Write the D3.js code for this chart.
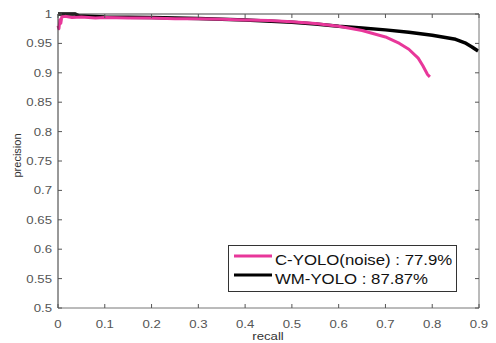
<!DOCTYPE html>
<html><head><meta charset="utf-8">
<script src="https://cdn.jsdelivr.net/npm/d3@7"></script>
<style>body{margin:0;background:#fff}svg{display:block}text{font-family:"Liberation Sans",Arial,sans-serif}</style>
</head><body><svg id="c" width="496" height="343"></svg>
<script>
const xTicks = [0,0.1,0.2,0.3,0.4,0.5,0.6,0.7,0.8,0.9];
const yTicks = [0.5,0.55,0.6,0.65,0.7,0.75,0.8,0.85,0.9,0.95,1];
const seriesNames = ["C-YOLO(noise) : 77.9%","WM-YOLO : 87.87%"];
const seriesColors = ["#e8379a","#000000"];
const cyoloRecall =    [0,0.002,0.004,0.006,0.008,0.015,0.03,0.05,0.08,0.1,0.15,0.2,0.25,0.3,0.35,0.4,0.45,0.5,0.55,0.6,0.65,0.7,0.73,0.75,0.77,0.78,0.79,0.795];
const cyoloPrecision = [0.98,0.975,0.99,0.984,0.995,0.996,0.994,0.995,0.993,0.994,0.993,0.993,0.992,0.992,0.991,0.99,0.989,0.987,0.984,0.979,0.972,0.961,0.950,0.940,0.925,0.912,0.897,0.893];
const wmRecall =    [0,0.037,0.045,0.1,0.2,0.3,0.4,0.5,0.55,0.6,0.65,0.7,0.75,0.8,0.85,0.87,0.885,0.898];
const wmPrecision = [1.0,1.0,0.997,0.995,0.994,0.9925,0.99,0.986,0.983,0.979,0.976,0.973,0.969,0.964,0.957,0.951,0.944,0.937];

const svg = d3.select("#c");
const x = d3.scaleLinear().domain([0,0.9]).range([58,479]);
const y = d3.scaleLinear().domain([0.5,1]).range([308,14]);
const SX = 1.2;

function stext(g, px, py, str, size, anchor, color){
  return g.append("g").attr("transform",`translate(${px},${py}) scale(${SX},1)`)
    .append("text").attr("text-anchor",anchor).attr("font-size",size).attr("fill",color).text(str);
}

// data lines
const line = d3.line().x(d=>x(d[0])).y(d=>y(d[1]));
const series = [d3.zip(cyoloRecall,cyoloPrecision), d3.zip(wmRecall,wmPrecision)];
const widths = [3,3.5];
[1,0].forEach(i=>{
  svg.append("path").attr("d",line(series[i])).attr("fill","none")
    .attr("stroke",seriesColors[i]).attr("stroke-width",widths[i]).attr("stroke-linejoin","round");
});

// axes box
const g = svg.append("g");
g.append("line").attr("x1",x(0)).attr("x2",x(0)).attr("y1",y(0.5)).attr("y2",y(1)).attr("stroke","#333");
g.append("line").attr("x1",x(0)).attr("x2",x(0.9)).attr("y1",y(1)).attr("y2",y(1)).attr("stroke","#444");
g.append("line").attr("x1",x(0)).attr("x2",x(0.9)).attr("y1",y(0.5)).attr("y2",y(0.5)).attr("stroke","#777");
g.append("line").attr("x1",x(0.9)).attr("x2",x(0.9)).attr("y1",y(0.5)).attr("y2",y(1)).attr("stroke","#777");

xTicks.forEach(t=>{
  g.append("line").attr("x1",x(t)).attr("x2",x(t)).attr("y1",y(0.5)).attr("y2",y(0.5)-4).attr("stroke","#555");
  g.append("line").attr("x1",x(t)).attr("x2",x(t)).attr("y1",y(1)).attr("y2",y(1)+4).attr("stroke","#555");
  stext(g, x(t), 328, d3.format("~g")(t), 11, "middle", "#555");
});
yTicks.forEach(t=>{
  g.append("line").attr("x1",x(0)).attr("x2",x(0)+4).attr("y1",y(t)).attr("y2",y(t)).attr("stroke","#555");
  g.append("line").attr("x1",x(0.9)).attr("x2",x(0.9)-4).attr("y1",y(t)).attr("y2",y(t)).attr("stroke","#555");
  stext(g, 52, y(t)+4, d3.format("~g")(t), 11, "end", "#555");
});
stext(g, 268, 340, "recall", 11, "middle", "#333");
g.append("text").attr("transform","translate(21,155.5) rotate(-90)").attr("text-anchor","middle")
  .attr("font-size",11).attr("fill","#333").text("precision");

// legend
const lg = svg.append("g");
lg.append("rect").attr("x",228.5).attr("y",245.5).attr("width",228).attr("height",46)
  .attr("fill","#fff").attr("stroke","#333");
const ly = [256,275];
seriesNames.forEach((n,i)=>{
  lg.append("line").attr("x1",234).attr("x2",272).attr("y1",ly[i]).attr("y2",ly[i])
    .attr("stroke",seriesColors[i]).attr("stroke-width",3);
  stext(lg, 275, [265,283.5][i], n, 14, "start", "#111");
});
</script></body></html>
